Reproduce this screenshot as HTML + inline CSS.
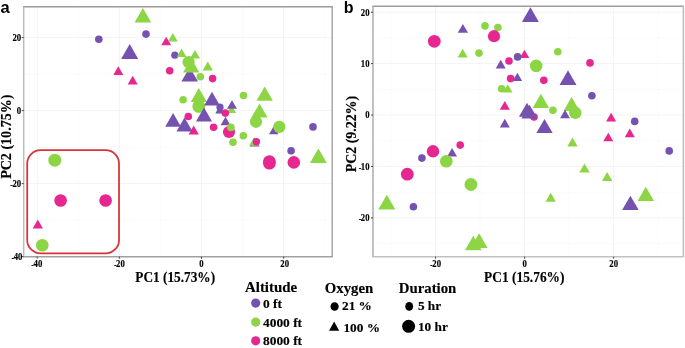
<!DOCTYPE html>
<html><head><meta charset="utf-8"><style>
html,body{margin:0;padding:0;background:#fff;}
body{width:685px;height:348px;overflow:hidden;}
svg{display:block;will-change:transform;}
</style></head><body>
<svg width="685" height="348" viewBox="0 0 685 348">
<rect width="685" height="348" fill="#fff"/>
<line x1="78.29" y1="6.7" x2="78.29" y2="256.7" stroke="#fbfbfb" stroke-width="1"/>
<line x1="160.43" y1="6.7" x2="160.43" y2="256.7" stroke="#fbfbfb" stroke-width="1"/>
<line x1="242.57" y1="6.7" x2="242.57" y2="256.7" stroke="#fbfbfb" stroke-width="1"/>
<line x1="324.71" y1="6.7" x2="324.71" y2="256.7" stroke="#fbfbfb" stroke-width="1"/>
<line x1="23.7" y1="74.12" x2="332.2" y2="74.12" stroke="#fbfbfb" stroke-width="1"/>
<line x1="23.7" y1="147.12" x2="332.2" y2="147.12" stroke="#fbfbfb" stroke-width="1"/>
<line x1="23.7" y1="220.13" x2="332.2" y2="220.13" stroke="#fbfbfb" stroke-width="1"/>
<line x1="37.22" y1="6.7" x2="37.22" y2="256.7" stroke="#f3f3f3" stroke-width="1"/>
<line x1="119.36" y1="6.7" x2="119.36" y2="256.7" stroke="#f3f3f3" stroke-width="1"/>
<line x1="201.50" y1="6.7" x2="201.50" y2="256.7" stroke="#f3f3f3" stroke-width="1"/>
<line x1="283.64" y1="6.7" x2="283.64" y2="256.7" stroke="#f3f3f3" stroke-width="1"/>
<line x1="23.7" y1="37.61" x2="332.2" y2="37.61" stroke="#f3f3f3" stroke-width="1"/>
<line x1="23.7" y1="110.62" x2="332.2" y2="110.62" stroke="#f3f3f3" stroke-width="1"/>
<line x1="23.7" y1="183.63" x2="332.2" y2="183.63" stroke="#f3f3f3" stroke-width="1"/>
<line x1="391.03" y1="6.2" x2="391.03" y2="256.7" stroke="#fbfbfb" stroke-width="1"/>
<line x1="480.08" y1="6.2" x2="480.08" y2="256.7" stroke="#fbfbfb" stroke-width="1"/>
<line x1="569.12" y1="6.2" x2="569.12" y2="256.7" stroke="#fbfbfb" stroke-width="1"/>
<line x1="658.17" y1="6.2" x2="658.17" y2="256.7" stroke="#fbfbfb" stroke-width="1"/>
<line x1="373.0" y1="37.91" x2="683.4" y2="37.91" stroke="#fbfbfb" stroke-width="1"/>
<line x1="373.0" y1="89.34" x2="683.4" y2="89.34" stroke="#fbfbfb" stroke-width="1"/>
<line x1="373.0" y1="140.76" x2="683.4" y2="140.76" stroke="#fbfbfb" stroke-width="1"/>
<line x1="373.0" y1="192.19" x2="683.4" y2="192.19" stroke="#fbfbfb" stroke-width="1"/>
<line x1="373.0" y1="243.61" x2="683.4" y2="243.61" stroke="#fbfbfb" stroke-width="1"/>
<line x1="435.55" y1="6.2" x2="435.55" y2="256.7" stroke="#f3f3f3" stroke-width="1"/>
<line x1="524.60" y1="6.2" x2="524.60" y2="256.7" stroke="#f3f3f3" stroke-width="1"/>
<line x1="613.65" y1="6.2" x2="613.65" y2="256.7" stroke="#f3f3f3" stroke-width="1"/>
<line x1="373.0" y1="12.20" x2="683.4" y2="12.20" stroke="#f3f3f3" stroke-width="1"/>
<line x1="373.0" y1="63.62" x2="683.4" y2="63.62" stroke="#f3f3f3" stroke-width="1"/>
<line x1="373.0" y1="115.05" x2="683.4" y2="115.05" stroke="#f3f3f3" stroke-width="1"/>
<line x1="373.0" y1="166.47" x2="683.4" y2="166.47" stroke="#f3f3f3" stroke-width="1"/>
<line x1="373.0" y1="217.90" x2="683.4" y2="217.90" stroke="#f3f3f3" stroke-width="1"/>
<circle cx="98.8" cy="39.3" r="3.80" fill="#7652B0"/>
<circle cx="146" cy="34.1" r="3.80" fill="#7652B0"/>
<polygon points="134.60,22.50 151.20,22.50 142.90,8.12" fill="#8CD545"/>
<polygon points="121.15,58.90 138.25,58.90 129.70,44.09" fill="#7652B0"/>
<polygon points="113.30,74.90 123.30,74.90 118.30,66.24" fill="#E6278F"/>
<polygon points="127.70,84.50 137.70,84.50 132.70,75.84" fill="#E6278F"/>
<polygon points="168.05,41.40 177.75,41.40 172.90,33.00" fill="#8CD545"/>
<polygon points="161.30,45.30 171.10,45.30 166.20,36.81" fill="#E6278F"/>
<circle cx="174.8" cy="55.2" r="3.60" fill="#7652B0"/>
<polygon points="176.75,56.90 186.45,56.90 181.60,48.50" fill="#8CD545"/>
<polygon points="190.00,58.60 200.00,58.60 195.00,49.94" fill="#8CD545"/>
<circle cx="169.7" cy="70.7" r="3.80" fill="#E6278F"/>
<polygon points="181.40,81.60 198.00,81.60 189.70,67.22" fill="#7652B0"/>
<polygon points="183.10,72.40 199.30,72.40 191.20,58.37" fill="#8CD545"/>
<circle cx="188.6" cy="62.1" r="6.15" fill="#8CD545"/>
<circle cx="200.3" cy="76.8" r="3.80" fill="#8CD545"/>
<polygon points="202.65,70.40 212.95,70.40 207.80,61.48" fill="#8CD545"/>
<circle cx="212.6" cy="78.6" r="3.80" fill="#E6278F"/>
<circle cx="183.1" cy="99.8" r="3.80" fill="#8CD545"/>
<polygon points="190.75,102.00 206.85,102.00 198.80,88.06" fill="#8CD545"/>
<circle cx="198.8" cy="106.4" r="6.40" fill="#8CD545"/>
<polygon points="204.10,105.40 219.90,105.40 212.00,91.72" fill="#7652B0"/>
<polygon points="226.65,113.00 236.15,113.00 231.40,104.77" fill="#8CD545"/>
<polygon points="227.00,108.80 237.00,108.80 232.00,100.14" fill="#7652B0"/>
<polygon points="215.25,113.50 224.55,113.50 219.90,105.45" fill="#7652B0"/>
<circle cx="220" cy="107.2" r="3.60" fill="#7652B0"/>
<circle cx="225.3" cy="113.1" r="3.80" fill="#E6278F"/>
<polygon points="195.95,121.40 212.05,121.40 204.00,107.46" fill="#7652B0"/>
<polygon points="220.55,125.20 230.45,125.20 225.50,116.63" fill="#7652B0"/>
<polygon points="165.20,126.70 181.00,126.70 173.10,113.02" fill="#7652B0"/>
<circle cx="188.3" cy="116.5" r="3.80" fill="#E6278F"/>
<polygon points="188.55,134.50 198.85,134.50 193.70,125.58" fill="#E6278F"/>
<polygon points="176.45,131.40 192.55,131.40 184.50,117.46" fill="#7652B0"/>
<circle cx="213.6" cy="127.2" r="3.80" fill="#E6278F"/>
<circle cx="229" cy="132" r="6.10" fill="#E6278F"/>
<circle cx="230.9" cy="127.4" r="3.80" fill="#8CD545"/>
<circle cx="243.5" cy="95.5" r="3.80" fill="#8CD545"/>
<circle cx="243.3" cy="135.7" r="3.80" fill="#8CD545"/>
<circle cx="233" cy="142.3" r="3.80" fill="#8CD545"/>
<polygon points="256.50,100.70 272.90,100.70 264.70,86.50" fill="#8CD545"/>
<polygon points="251.45,117.40 267.55,117.40 259.50,103.46" fill="#8CD545"/>
<circle cx="256" cy="121.8" r="6.10" fill="#8CD545"/>
<polygon points="269.05,134.30 278.55,134.30 273.80,126.07" fill="#7652B0"/>
<circle cx="279.3" cy="126.9" r="6.10" fill="#8CD545"/>
<circle cx="313" cy="126.9" r="3.80" fill="#7652B0"/>
<polygon points="249.70,146.40 259.70,146.40 254.70,137.74" fill="#7652B0"/>
<polygon points="249.10,145.70 259.10,145.70 254.10,137.04" fill="#8CD545"/>
<circle cx="256.4" cy="141.8" r="3.70" fill="#E6278F"/>
<circle cx="269.4" cy="161.5" r="6.30" fill="#E6278F"/>
<circle cx="269.4" cy="163.2" r="6.30" fill="#E6278F"/>
<circle cx="293.8" cy="162.4" r="6.30" fill="#E6278F"/>
<circle cx="291.1" cy="150.7" r="3.80" fill="#7652B0"/>
<polygon points="309.95,163.10 326.85,163.10 318.40,148.46" fill="#8CD545"/>
<circle cx="54.8" cy="160.2" r="6.50" fill="#8CD545"/>
<circle cx="60.6" cy="200.5" r="6.30" fill="#E6278F"/>
<circle cx="105.6" cy="200.5" r="6.30" fill="#E6278F"/>
<polygon points="32.65,228.40 42.95,228.40 37.80,219.48" fill="#E6278F"/>
<circle cx="42.3" cy="245.3" r="6.30" fill="#8CD545"/>
<circle cx="434.3" cy="41.3" r="6.40" fill="#E6278F"/>
<polygon points="457.75,32.80 468.05,32.80 462.90,23.88" fill="#7652B0"/>
<polygon points="457.55,57.60 467.85,57.60 462.70,48.68" fill="#8CD545"/>
<circle cx="485" cy="25.9" r="3.80" fill="#8CD545"/>
<circle cx="497.9" cy="27.6" r="3.80" fill="#8CD545"/>
<circle cx="494" cy="36.2" r="6.10" fill="#E6278F"/>
<circle cx="479" cy="53.1" r="3.80" fill="#8CD545"/>
<polygon points="521.90,22.00 538.90,22.00 530.40,7.28" fill="#7652B0"/>
<polygon points="519.75,58.10 529.25,58.10 524.50,49.87" fill="#E6278F"/>
<circle cx="517.6" cy="56.9" r="3.80" fill="#7652B0"/>
<circle cx="509" cy="61" r="3.80" fill="#E6278F"/>
<polygon points="495.70,68.40 505.70,68.40 500.70,59.74" fill="#7652B0"/>
<circle cx="536.2" cy="65.9" r="6.30" fill="#8CD545"/>
<polygon points="512.65,81.00 522.15,81.00 517.40,72.77" fill="#7652B0"/>
<circle cx="510.7" cy="78.6" r="3.80" fill="#E6278F"/>
<circle cx="543.8" cy="80.2" r="3.80" fill="#E6278F"/>
<circle cx="501.6" cy="88.8" r="3.80" fill="#8CD545"/>
<polygon points="503.05,92.60 512.55,92.60 507.80,84.37" fill="#8CD545"/>
<circle cx="557.8" cy="51.7" r="3.80" fill="#8CD545"/>
<circle cx="590" cy="62.9" r="3.80" fill="#E6278F"/>
<polygon points="559.50,85.00 576.50,85.00 568.00,70.28" fill="#7652B0"/>
<circle cx="591.9" cy="95.7" r="3.80" fill="#7652B0"/>
<polygon points="499.75,109.70 509.85,109.70 504.80,100.95" fill="#E6278F"/>
<polygon points="499.75,127.60 509.85,127.60 504.80,118.85" fill="#7652B0"/>
<circle cx="534" cy="117" r="3.80" fill="#E6278F"/>
<polygon points="518.95,116.80 535.05,116.80 527.00,102.86" fill="#7652B0"/>
<polygon points="521.45,118.60 537.55,118.60 529.50,104.66" fill="#7652B0"/>
<polygon points="532.70,108.00 549.10,108.00 540.90,93.80" fill="#8CD545"/>
<circle cx="552.9" cy="110.2" r="3.80" fill="#8CD545"/>
<polygon points="536.30,133.10 552.70,133.10 544.50,118.90" fill="#7652B0"/>
<polygon points="563.55,111.00 579.65,111.00 571.60,97.06" fill="#8CD545"/>
<polygon points="560.05,118.30 569.95,118.30 565.00,109.73" fill="#7652B0"/>
<circle cx="575.3" cy="112.8" r="6.20" fill="#8CD545"/>
<polygon points="606.10,121.40 616.10,121.40 611.10,112.74" fill="#E6278F"/>
<circle cx="634.7" cy="121.4" r="3.80" fill="#7652B0"/>
<polygon points="624.80,137.20 634.80,137.20 629.80,128.54" fill="#E6278F"/>
<polygon points="603.30,141.30 613.30,141.30 608.30,132.64" fill="#E6278F"/>
<circle cx="669.2" cy="150.9" r="3.80" fill="#7652B0"/>
<polygon points="567.30,146.60 577.70,146.60 572.50,137.59" fill="#8CD545"/>
<polygon points="579.30,172.50 589.70,172.50 584.50,163.49" fill="#8CD545"/>
<polygon points="602.00,180.90 612.40,180.90 607.20,171.89" fill="#8CD545"/>
<polygon points="545.50,201.70 555.90,201.70 550.70,192.69" fill="#8CD545"/>
<polygon points="637.55,201.00 654.05,201.00 645.80,186.71" fill="#8CD545"/>
<polygon points="622.15,210.00 638.65,210.00 630.40,195.71" fill="#7652B0"/>
<circle cx="460.2" cy="145.1" r="3.80" fill="#E6278F"/>
<circle cx="433" cy="151.3" r="6.20" fill="#E6278F"/>
<circle cx="421.9" cy="158.1" r="3.80" fill="#7652B0"/>
<polygon points="447.15,156.60 457.05,156.60 452.10,148.03" fill="#7652B0"/>
<circle cx="446.3" cy="161.2" r="6.30" fill="#8CD545"/>
<circle cx="407.3" cy="174.2" r="6.40" fill="#E6278F"/>
<circle cx="470.9" cy="184.5" r="6.40" fill="#8CD545"/>
<circle cx="413.4" cy="206.7" r="3.80" fill="#7652B0"/>
<polygon points="378.25,209.60 395.35,209.60 386.80,194.79" fill="#8CD545"/>
<polygon points="465.00,250.20 481.60,250.20 473.30,235.82" fill="#8CD545"/>
<polygon points="470.60,248.00 487.60,248.00 479.10,233.28" fill="#8CD545"/>
<rect x="27.2" y="150.1" width="91.8" height="103.3" rx="13.5" ry="13.5" fill="none" stroke="#D8323A" stroke-width="1.75"/>
<line x1="23.0" y1="6.7" x2="332.9" y2="6.7" stroke="#9a9a9a" stroke-width="1.5"/><line x1="332.2" y1="6.7" x2="332.2" y2="256.7" stroke="#a8a8a8" stroke-width="1.5"/><line x1="23.0" y1="256.7" x2="332.9" y2="256.7" stroke="#a0a0a0" stroke-width="1.5"/><line x1="23.7" y1="6.7" x2="23.7" y2="256.7" stroke="#bcbcbc" stroke-width="1.5"/>
<line x1="372.3" y1="6.2" x2="684.1" y2="6.2" stroke="#9c9c9c" stroke-width="1.5"/><line x1="683.4" y1="6.2" x2="683.4" y2="256.7" stroke="#bebebe" stroke-width="1.5"/><line x1="372.3" y1="256.7" x2="684.1" y2="256.7" stroke="#c2c2c2" stroke-width="1.5"/><line x1="373.0" y1="6.2" x2="373.0" y2="256.7" stroke="#acacac" stroke-width="1.5"/>
<line x1="21.70" y1="37.61" x2="23.7" y2="37.61" stroke="#444" stroke-width="1"/>
<text transform="translate(21.20,41.01) scale(0.84,1)" text-anchor="end" font-family="Liberation Serif" font-weight="bold" stroke="#000" stroke-width="0.15" font-size="10.4">20</text>
<line x1="21.70" y1="110.62" x2="23.7" y2="110.62" stroke="#444" stroke-width="1"/>
<text transform="translate(21.20,114.02) scale(0.84,1)" text-anchor="end" font-family="Liberation Serif" font-weight="bold" stroke="#000" stroke-width="0.15" font-size="10.4">0</text>
<line x1="21.70" y1="183.63" x2="23.7" y2="183.63" stroke="#444" stroke-width="1"/>
<text transform="translate(21.20,187.03) scale(0.84,1)" text-anchor="end" font-family="Liberation Serif" font-weight="bold" stroke="#000" stroke-width="0.15" font-size="10.4"><tspan font-size="9.5" dy="1">-</tspan><tspan dx="-0.5" dy="-1">20</tspan></text>
<line x1="21.70" y1="256.64" x2="23.7" y2="256.64" stroke="#444" stroke-width="1"/>
<text transform="translate(22.40,260.04) scale(0.84,1)" text-anchor="end" font-family="Liberation Serif" font-weight="bold" stroke="#000" stroke-width="0.15" font-size="10.4"><tspan font-size="9.5" dy="1">-</tspan><tspan dx="-0.5" dy="-1">40</tspan></text>
<line x1="37.22" y1="256.7" x2="37.22" y2="258.70" stroke="#444" stroke-width="1"/>
<text transform="translate(36.82,267.4) scale(0.84,1)" text-anchor="middle" font-family="Liberation Serif" font-weight="bold" stroke="#000" stroke-width="0.15" font-size="10.4"><tspan font-size="9.5" dy="1">-</tspan><tspan dx="-0.5" dy="-1">40</tspan></text>
<line x1="119.36" y1="256.7" x2="119.36" y2="258.70" stroke="#444" stroke-width="1"/>
<text transform="translate(119.36,267.4) scale(0.84,1)" text-anchor="middle" font-family="Liberation Serif" font-weight="bold" stroke="#000" stroke-width="0.15" font-size="10.4"><tspan font-size="9.5" dy="1">-</tspan><tspan dx="-0.5" dy="-1">20</tspan></text>
<line x1="201.50" y1="256.7" x2="201.50" y2="258.70" stroke="#444" stroke-width="1"/>
<text transform="translate(201.50,267.4) scale(0.84,1)" text-anchor="middle" font-family="Liberation Serif" font-weight="bold" stroke="#000" stroke-width="0.15" font-size="10.4">0</text>
<line x1="283.64" y1="256.7" x2="283.64" y2="258.70" stroke="#444" stroke-width="1"/>
<text transform="translate(284.64,267.4) scale(0.84,1)" text-anchor="middle" font-family="Liberation Serif" font-weight="bold" stroke="#000" stroke-width="0.15" font-size="10.4">20</text>
<line x1="371.00" y1="12.20" x2="373.0" y2="12.20" stroke="#444" stroke-width="1"/>
<text transform="translate(369.60,15.60) scale(0.84,1)" text-anchor="end" font-family="Liberation Serif" font-weight="bold" stroke="#000" stroke-width="0.15" font-size="10.4">20</text>
<line x1="371.00" y1="63.62" x2="373.0" y2="63.62" stroke="#444" stroke-width="1"/>
<text transform="translate(369.60,67.03) scale(0.84,1)" text-anchor="end" font-family="Liberation Serif" font-weight="bold" stroke="#000" stroke-width="0.15" font-size="10.4">10</text>
<line x1="371.00" y1="115.05" x2="373.0" y2="115.05" stroke="#444" stroke-width="1"/>
<text transform="translate(369.60,118.45) scale(0.84,1)" text-anchor="end" font-family="Liberation Serif" font-weight="bold" stroke="#000" stroke-width="0.15" font-size="10.4">0</text>
<line x1="371.00" y1="166.47" x2="373.0" y2="166.47" stroke="#444" stroke-width="1"/>
<text transform="translate(369.60,169.88) scale(0.84,1)" text-anchor="end" font-family="Liberation Serif" font-weight="bold" stroke="#000" stroke-width="0.15" font-size="10.4"><tspan font-size="9.5" dy="1">-</tspan><tspan dx="-0.5" dy="-1">10</tspan></text>
<line x1="371.00" y1="217.90" x2="373.0" y2="217.90" stroke="#444" stroke-width="1"/>
<text transform="translate(369.60,221.30) scale(0.84,1)" text-anchor="end" font-family="Liberation Serif" font-weight="bold" stroke="#000" stroke-width="0.15" font-size="10.4"><tspan font-size="9.5" dy="1">-</tspan><tspan dx="-0.5" dy="-1">20</tspan></text>
<line x1="435.55" y1="256.7" x2="435.55" y2="258.70" stroke="#444" stroke-width="1"/>
<text transform="translate(435.55,267.4) scale(0.84,1)" text-anchor="middle" font-family="Liberation Serif" font-weight="bold" stroke="#000" stroke-width="0.15" font-size="10.4"><tspan font-size="9.5" dy="1">-</tspan><tspan dx="-0.5" dy="-1">20</tspan></text>
<line x1="524.60" y1="256.7" x2="524.60" y2="258.70" stroke="#444" stroke-width="1"/>
<text transform="translate(524.60,267.4) scale(0.84,1)" text-anchor="middle" font-family="Liberation Serif" font-weight="bold" stroke="#000" stroke-width="0.15" font-size="10.4">0</text>
<line x1="613.65" y1="256.7" x2="613.65" y2="258.70" stroke="#444" stroke-width="1"/>
<text transform="translate(613.65,267.4) scale(0.84,1)" text-anchor="middle" font-family="Liberation Serif" font-weight="bold" stroke="#000" stroke-width="0.15" font-size="10.4">20</text>
<text transform="translate(175.2,281.6) scale(1,1.1)" text-anchor="middle" font-family="Liberation Serif" font-weight="bold" stroke="#000" stroke-width="0.15" font-size="13.3">PC1 (15.73%)</text>
<text transform="translate(524.3,281.6) scale(1,1.1)" text-anchor="middle" font-family="Liberation Serif" font-weight="bold" stroke="#000" stroke-width="0.15" font-size="13.4">PC1 (15.76%)</text>
<text transform="translate(11.2,136.7) rotate(-90) scale(1.02,1.05)" text-anchor="middle" font-family="Liberation Serif" font-weight="bold" stroke="#000" stroke-width="0.15" font-size="13.8">PC2 (10.75%)</text>
<text transform="translate(355.6,134.1) rotate(-90) scale(1.03,1.05)" text-anchor="middle" font-family="Liberation Serif" font-weight="bold" stroke="#000" stroke-width="0.15" font-size="13.5">PC2 (9.22%)</text>
<text x="0.5" y="12.6" font-family="Liberation Sans" font-weight="bold" font-size="16.5">a</text>
<text x="343.8" y="12.8" font-family="Liberation Sans" font-weight="bold" font-size="16">b</text>
<text x="245" y="291.6" font-family="Liberation Serif" font-weight="bold" stroke="#000" stroke-width="0.15" font-size="14.9">Altitude</text>
<text x="324.8" y="292.5" font-family="Liberation Serif" font-weight="bold" stroke="#000" stroke-width="0.15" font-size="14.8">Oxygen</text>
<text x="398.8" y="292.5" font-family="Liberation Serif" font-weight="bold" stroke="#000" stroke-width="0.15" font-size="14.8">Duration</text>
<circle cx="255.7" cy="303.1" r="4.60" fill="#7652B0"/>
<circle cx="255.7" cy="322.1" r="4.60" fill="#8CD545"/>
<circle cx="255.7" cy="340.8" r="4.60" fill="#E6278F"/>
<text x="263" y="307.6" font-family="Liberation Serif" font-weight="bold" stroke="#000" stroke-width="0.15" font-size="13.4">0 ft</text>
<text x="263" y="326.6" font-family="Liberation Serif" font-weight="bold" stroke="#000" stroke-width="0.15" font-size="13.4">4000 ft</text>
<text x="263" y="345.3" font-family="Liberation Serif" font-weight="bold" stroke="#000" stroke-width="0.15" font-size="13.4">8000 ft</text>
<ellipse cx="334.6" cy="306.5" rx="4.1" ry="4.35" fill="#000"/>
<polygon points="329.1,330.7 339.2,330.7 334.15,321.5" fill="#000"/>
<text x="342" y="310.4" font-family="Liberation Serif" font-weight="bold" stroke="#000" stroke-width="0.15" font-size="13.3">21 %</text>
<text x="343.4" y="331.5" font-family="Liberation Serif" font-weight="bold" stroke="#000" stroke-width="0.15" font-size="13.3">100 %</text>
<ellipse cx="409.2" cy="306.4" rx="3.95" ry="4.3" fill="#000"/>
<circle cx="408.6" cy="326.3" r="6.50" fill="#000"/>
<text x="417.9" y="310.4" font-family="Liberation Serif" font-weight="bold" stroke="#000" stroke-width="0.15" font-size="13.3">5 hr</text>
<text x="417.9" y="330.9" font-family="Liberation Serif" font-weight="bold" stroke="#000" stroke-width="0.15" font-size="13.3">10 hr</text>
</svg>
</body></html>
